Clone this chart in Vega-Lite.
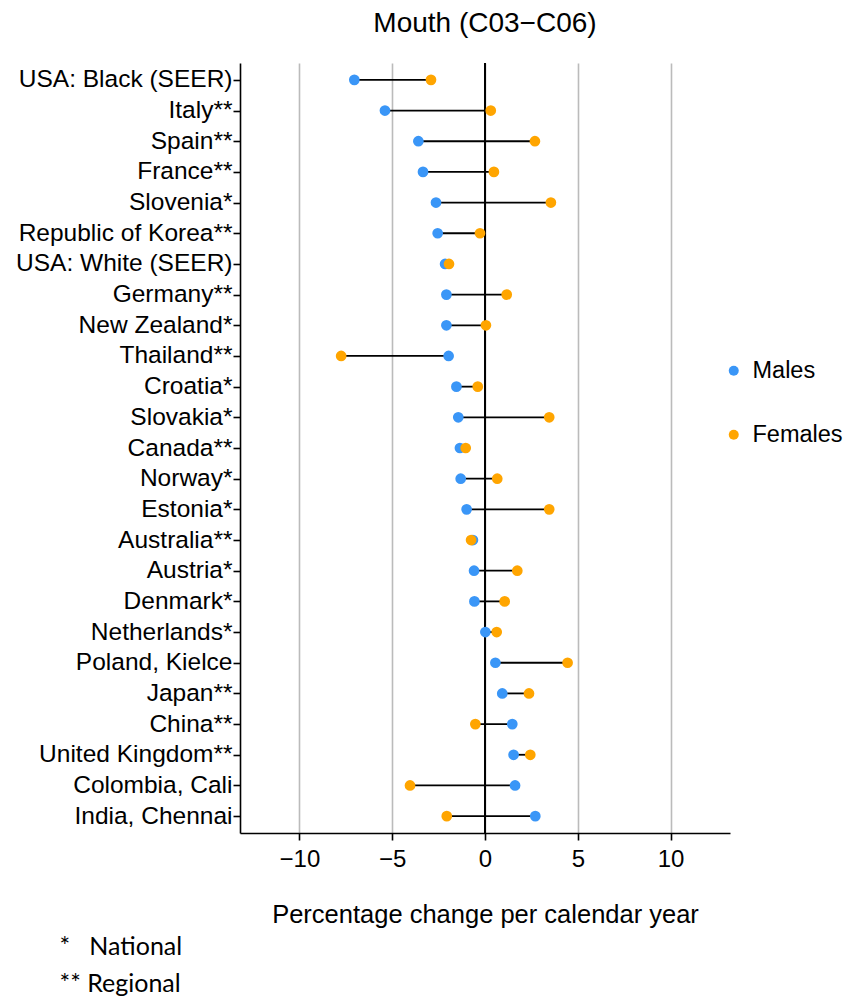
{
  "$schema": "https://vega.github.io/schema/vega-lite/v6.json",
  "width": 490,
  "height": 770,
  "autosize": "none",
  "padding": {"left": 240, "top": 63, "right": 115, "bottom": 164},
  "background": "white",
  "title": {"text": "Mouth (C03−C06)", "fontSize": 28, "font": "Liberation Sans", "fontWeight": "normal", "color": "black", "anchor": "middle", "frame": "group", "offset": 24},
  "config": {"view": {"stroke": null}, "font": "Liberation Sans"},
  "data": {"values": [
    {"country": "USA: Black (SEER)", "Males": -7.04, "Females": -2.91},
    {"country": "Italy**", "Males": -5.39, "Females": 0.31},
    {"country": "Spain**", "Males": -3.59, "Females": 2.69},
    {"country": "France**", "Males": -3.34, "Females": 0.48},
    {"country": "Slovenia*", "Males": -2.64, "Females": 3.55},
    {"country": "Republic of Korea**", "Males": -2.55, "Females": -0.27},
    {"country": "USA: White (SEER)", "Males": -2.15, "Females": -1.94},
    {"country": "Germany**", "Males": -2.08, "Females": 1.17},
    {"country": "New Zealand*", "Males": -2.08, "Females": 0.05},
    {"country": "Thailand**", "Males": -1.96, "Females": -7.75},
    {"country": "Croatia*", "Males": -1.54, "Females": -0.39},
    {"country": "Slovakia*", "Males": -1.44, "Females": 3.46},
    {"country": "Canada**", "Males": -1.35, "Females": -1.04},
    {"country": "Norway*", "Males": -1.31, "Females": 0.66},
    {"country": "Estonia*", "Males": -0.99, "Females": 3.46},
    {"country": "Australia**", "Males": -0.65, "Females": -0.75},
    {"country": "Austria*", "Males": -0.59, "Females": 1.74},
    {"country": "Denmark*", "Males": -0.57, "Females": 1.06},
    {"country": "Netherlands*", "Males": 0.02, "Females": 0.63},
    {"country": "Poland, Kielce", "Males": 0.56, "Females": 4.45},
    {"country": "Japan**", "Males": 0.93, "Females": 2.37},
    {"country": "China**", "Males": 1.47, "Females": -0.52},
    {"country": "United Kingdom**", "Males": 1.54, "Females": 2.44},
    {"country": "Colombia, Cali", "Males": 1.62, "Females": -4.04},
    {"country": "India, Chennai", "Males": 2.71, "Females": -2.06}
  ]},
  "resolve": {"axis": {"x": "independent"}},
  "layer": [
    {
      "mark": {"type": "rule", "color": "black", "strokeWidth": 1.6},
      "encoding": {
        "x": {"datum": 0, "type": "quantitative",
          "scale": {"domain": [-13.2, 13.2], "nice": false, "zero": false},
          "axis": {"values": [-10, -5, 0, 5, 10], "grid": true, "gridColor": "#bbbbbb", "gridWidth": 1.6,
            "domainColor": "black", "domainWidth": 1.6, "tickColor": "black", "tickSize": 7, "tickWidth": 1.6,
            "labelFont": "Liberation Sans", "labelFontSize": 24, "labelColor": "black", "labelPadding": 7,
            "title": "Percentage change per calendar year", "titleFont": "Liberation Sans", "titleFontSize": 25.5,
            "titleFontWeight": "normal", "titleColor": "black", "titlePadding": 31}
        }
      }
    },
    {
      "mark": {"type": "rule", "color": "black", "strokeWidth": 1.8},
      "encoding": {
        "y": {"field": "country", "type": "nominal", "sort": null,
          "scale": {"type": "point", "padding": 0.55},
          "axis": {"title": null, "grid": false, "domainColor": "black", "domainWidth": 1.6, "tickColor": "black",
            "tickSize": 7, "tickWidth": 1.6, "labelFont": "Liberation Sans", "labelFontSize": 24.5, "labelColor": "black",
            "labelPadding": 1, "labelLimit": 300}},
        "x": {"field": "Males", "type": "quantitative", "axis": null},
        "x2": {"field": "Females"}
      }
    },
    {
      "transform": [{"fold": ["Males", "Females"], "as": ["sex", "value"]}],
      "mark": {"type": "circle", "size": 115, "opacity": 1},
      "encoding": {
        "y": {"field": "country", "type": "nominal", "sort": null},
        "x": {"field": "value", "type": "quantitative",
          "axis": {"orient": "bottom", "domain": false, "ticks": false, "labels": false, "grid": false,
            "title": ["*\u00a0\u00a0\u00a0National", "**\u00a0Regional"], "titleFont": "Lato", "titleFontSize": 25,
            "titleFontWeight": "normal", "titleColor": "black", "titleX": -181, "titleY": 101,
            "titleAlign": "left", "titleAnchor": "start", "titleBaseline": "top", "titleLineHeight": 37}},
        "color": {"field": "sex", "type": "nominal",
          "scale": {"domain": ["Males", "Females"], "range": ["#3a96f7", "#ffa500"]},
          "legend": {"title": null, "orient": "none", "legendX": 482, "legendY": 296, "symbolType": "circle",
            "symbolSize": 100, "symbolStrokeWidth": 0, "labelFont": "Liberation Sans", "labelFontSize": 23.5,
            "labelColor": "black", "rowPadding": 39, "labelOffset": 7}}
      }
    }
  ]
}
